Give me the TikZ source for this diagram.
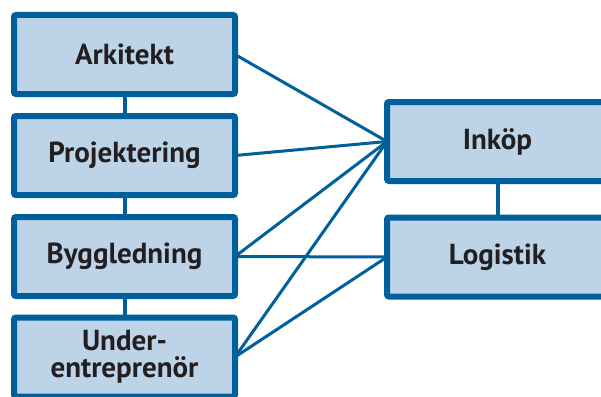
\documentclass[tikz,border=0pt]{standalone}
\usepackage{fontspec}
\setmainfont{PT Sans}
\definecolor{boxblue}{HTML}{00609C}
\definecolor{boxfill}{HTML}{BDD4E8}
\definecolor{ink}{HTML}{231F20}
\begin{document}
\begin{tikzpicture}[x=1pt,y=-1pt,
  role/.style={draw=boxblue, fill=boxfill, line width=6pt, rounded corners=2pt,
    minimum width=221pt, minimum height=79pt, inner sep=0pt, outer sep=0pt,
    align=center, text=ink, font=\bfseries\fontsize{29}{27}\selectfont},
  link/.style={draw=boxblue, line width=3pt},
  chain/.style={draw=boxblue, line width=4pt}]
\useasboundingbox (0,0) rectangle (601,396);
% vertical links sit behind the boxes
\draw[chain] (124.5,90) -- (124.5,360);
\draw[chain] (497.5,140) -- (497.5,260);
% left column
\node[role] (a) at (124.5,54.5) {Arkitekt};
\node[role] (p) at (124.5,155.5) {Projektering};
\node[role] (b) at (124.5,256.5) {Byggledning};
\node[role] (u) at (124.5,357) {Under-\\entreprenör};
% right column
\node[role] (i) at (497.5,141.5) {Inköp};
\node[role] (l) at (497.5,257) {Logistik};
% cross links
\draw[link] (a.east) -- (i.west);
\draw[link] (p.east) -- (i.west);
\draw[link] (b.east) -- (i.west);
\draw[link] (b.east) -- (l.west);
\draw[link] (u.east) -- (i.west);
\draw[link] (u.east) -- (l.west);
\end{tikzpicture}
\end{document}
